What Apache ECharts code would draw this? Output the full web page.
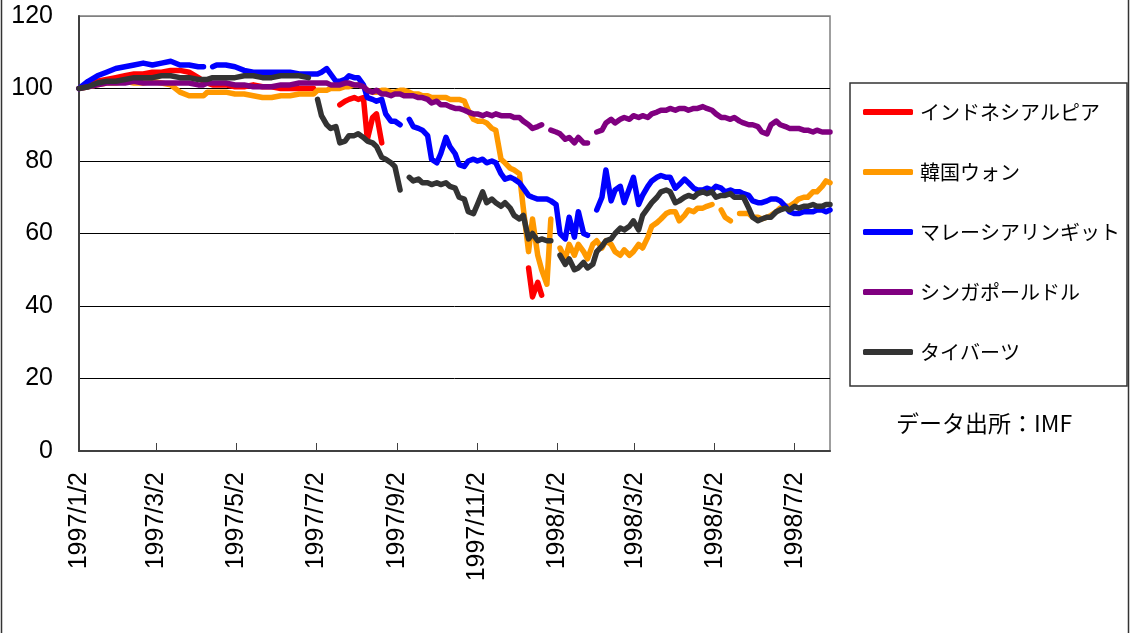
<!DOCTYPE html>
<html>
<head>
<meta charset="utf-8">
<script src="https://cdn.jsdelivr.net/npm/echarts@6/dist/echarts.min.js"></script>
<style>
html,body{margin:0;padding:0;background:#fff;}
#c{width:1133px;height:633px;}
</style>
</head>
<body>
<div id="c"></div>
<script>
// ---- data (index, 1997/1/2 = 100) ----
const dates = [
 '1997-01-02','1997-01-09','1997-01-16','1997-01-23','1997-01-30','1997-02-06','1997-02-13','1997-02-20','1997-02-27','1997-03-06',
 '1997-03-13','1997-03-20','1997-03-27','1997-04-03','1997-04-07','1997-04-10','1997-04-14','1997-04-17','1997-04-24','1997-05-01',
 '1997-05-08','1997-05-15','1997-05-22','1997-05-29','1997-06-05','1997-06-12','1997-06-19','1997-06-26','1997-06-30',
 '1997-07-03','1997-07-06','1997-07-10','1997-07-13','1997-07-17','1997-07-20','1997-07-24','1997-07-27','1997-07-31','1997-08-03',
 '1997-08-07','1997-08-10','1997-08-14','1997-08-17','1997-08-21','1997-08-24','1997-08-28','1997-08-31','1997-09-04','1997-09-07',
 '1997-09-11','1997-09-14','1997-09-18','1997-09-21','1997-09-25','1997-09-28','1997-10-02','1997-10-05','1997-10-09','1997-10-12',
 '1997-10-16','1997-10-19','1997-10-23','1997-10-26','1997-10-30','1997-11-02','1997-11-06','1997-11-09','1997-11-13','1997-11-16',
 '1997-11-20','1997-11-23','1997-11-27','1997-11-30','1997-12-04','1997-12-07','1997-12-11','1997-12-14','1997-12-18','1997-12-21',
 '1997-12-25','1997-12-28','1998-01-01','1998-01-04','1998-01-08','1998-01-11','1998-01-15','1998-01-18','1998-01-22','1998-01-25',
 '1998-01-29','1998-02-01','1998-02-05','1998-02-08','1998-02-12','1998-02-15','1998-02-19','1998-02-22','1998-02-26','1998-03-01',
 '1998-03-05','1998-03-08','1998-03-12','1998-03-15','1998-03-19','1998-03-22','1998-03-26',
 '1998-03-29','1998-04-02','1998-04-05','1998-04-09','1998-04-12','1998-04-16','1998-04-19','1998-04-23','1998-04-26','1998-04-30',
 '1998-05-03','1998-05-07','1998-05-10','1998-05-14','1998-05-17','1998-05-21','1998-05-24','1998-05-28','1998-05-31','1998-06-04',
 '1998-06-07','1998-06-11','1998-06-14','1998-06-18','1998-06-21','1998-06-25','1998-06-28','1998-07-02','1998-07-05','1998-07-09',
 '1998-07-12','1998-07-16','1998-07-19','1998-07-23','1998-07-26','1998-07-29'
];

const seriesNames = ['インドネシアルピア','韓国ウォン','マレーシアリンギット','シンガポールドル','タイバーツ'];

const idr = [
 100,101,102,102.5,103,103.5,104,104,104.5,104.5,105,105,104.5,103,102,101.5,101,101,101,100.5,
 100.5,101,100.5,100.5,100,100,100,100,100,
 null,null,null,null,null,95.5,96.5,97,97.5,97,97.5,86,92,93,85,
 null,null,null,null,null,null,null,null,null,null,null,null,null,null,null,null,null,null,null,null,
 null,null,null,null,null,null,null,null,null,null,null,
 50.5,42.5,46.5,43,
 null,null,null,null,null,null,null,null,null,null,null,null,null,null,null,null,null,null,null,null,
 null,null,null,null,null,null,null,
 null,null,null,null,null,null,null,null,null,null,null,null,null,null,null,null,null,null,null,null,
 null,null,null,null,null,null,null,null,null,null,null,null,null,null,null,null
];

const krw = [
 100,100.5,101,101.5,101.5,102,101.5,101.5,102,101.5,101,99,98,98,98,99,99,99,99,98.5,
 98.5,98,97.5,97.5,98,98,98.5,98.5,98.5,
 99.5,99.5,99.5,100,100,100,100.5,100.5,101,101,100.5,99.5,99,99,99.5,99.5,99,99,99.5,99.5,
 99,98.5,98.5,98,98,97.5,97.5,97.5,97.5,97,97,97,96.5,94,91.5,91,91,90.5,89,88.5,
 80.5,79.5,78,77.5,76.5,67,55,64,54,50,46,64,null,56,53,57,54,57,55,53,
 57,58,56,58,57,55,54,55.5,54,55,57,56,59,62,63,64,65.5,
 66,66,63.5,65,66.5,66,67,67,67.5,68,null,66.5,64.5,63.5,null,65.5,65.5,65.5,64.5,64.5,
 64,64.5,65,66,67,67.5,67.5,68.5,69.5,70,70,71.5,71.5,73,74.5,74
];

const myr = [
 100,102,103.5,104.5,105.5,106,106.5,107,106.5,107,107.5,106.5,106.5,106,106,null,106,106.5,106.5,106,
 105,104.5,104.5,104.5,104.5,104.5,104,104,104,
 104,104.5,105.5,104,102,102,102.5,103.5,103,103,101,97.5,97,96.5,97,93,91,91,90,null,
 91.5,89.5,89,88.5,87,80.5,79.5,82,86.5,84,82,79,78.5,80,80.5,80,80.5,79.5,80,79.5,
 76.5,75,75.5,75,74,72.5,70.5,70,69.5,69.5,69.5,69,68,60,58.5,64.5,59,66,60,59.5,
 null,66.5,70,77.5,69,72,73,68.5,72.5,75.5,68,70.5,73,74.5,75.5,76,75.5,
 75.5,72.5,73.5,75,74,72.5,72,72,72.5,72,73,72.5,71.5,72,71.5,71.5,71,70.5,69,68.5,
 68.5,69,69.5,69.5,69,67.5,66,65.5,65.5,66,66,66,66.5,66.5,66,66.5
];

const sgd = [
 100,100.5,101,101.5,101.5,101.5,102,101.5,101.5,101.5,101.5,101.5,101.5,101,101,101.5,101.5,101.5,101.5,101,
 101,100.5,100.5,100.5,101,101,101.5,101.5,101.5,
 101.5,101.5,101.5,101,101,101,101.5,101.5,101,101,100.5,99.5,99,99.5,98.5,98.5,98,98.5,98.5,98,
 98,98,97.5,97.5,97,96,96.5,95.5,95.5,95,94.5,94.5,94,93.5,93,93,92.5,93,92.5,93,
 92.5,92.5,92.5,92,92,91,90,89,89.5,90,null,88.5,88,87.5,86,86.5,85,86.5,85,85,
 null,88,88.5,90.5,91.5,90.5,91.5,92,91.5,92.5,92,92.5,92,93,93.5,94,94,
 94.5,94,94.5,94.5,94,94.5,94.5,95,94.5,94,93,92,92,91.5,92,91,90.5,90,90,89.5,
 88,87.5,90,91,90,89.5,89,89,89,88.5,88.5,88,88.5,88,88,88
];

const thb = [
 100,100.5,101.5,102,102,102.5,103,103,103,103.5,103.5,103,103,102.5,102.5,102.5,103,103,103,103,
 103.5,103.5,103,103,103.5,103.5,103.5,103,null,
 97,92.5,90,89,89.5,85,85.5,87,87,87.5,86.5,85.5,85,84,81,80.5,79.5,78.5,72,null,
 75.5,74.5,75,74,74,73.5,74,73.5,74,73,72.5,70,69.5,66,65.5,68,71.5,68.5,69.5,68.5,
 67.5,68.5,67,65,64,65,58.5,60,58,58.5,58,58,null,54,51.5,53,50,50.5,52,50.5,
 51.5,55,56.5,58,58.5,60,61.5,61,62,63.5,61,65,67,68.5,70,71.5,72,
 71.5,68.5,69,70,70.5,70,71,71.5,71,71.5,70,70.5,70.5,71,70,70,70,67,64.5,63.5,
 64,64.5,64.5,66,66.5,67,66.5,67.5,67,67.5,67.5,68,67.5,67.5,68,68
];

const xTickLabels = ['1997/1/2','1997/3/2','1997/5/2','1997/7/2','1997/9/2','1997/11/2','1998/1/2','1998/3/2','1998/5/2','1998/7/2'];
const yTicks = [0, 20, 40, 60, 80, 100, 120];
const colors = ['#ff0000','#ff9900','#0000ff','#800080','#333333'];
const sourceNote = 'データ出所：IMF';

// ---- helpers ----
const base = Date.UTC(1997, 0, 2);
function dayOf(s) {
  const p = s.split(/[-\/]/).map(Number);
  return Math.round((Date.UTC(p[0], p[1] - 1, p[2]) - base) / 86400000);
}
const xs = dates.map(dayOf);
const tickDays = xTickLabels.map(dayOf);
const labelByDay = {};
tickDays.forEach((d, i) => { labelByDay[d] = xTickLabels[i]; });

const allVals = [idr, krw, myr, sgd, thb];
const series = allVals.map((vals, k) => ({
  name: seriesNames[k],
  type: 'line',
  data: xs.map((x, i) => [x, vals[i]]),
  showSymbol: false,
  symbol: 'none',
  connectNulls: false,
  color: colors[k],
  lineStyle: { width: 5.5, color: colors[k], cap: 'round', join: 'round' },
  emphasis: { disabled: true },
  animation: false
}));

const chart = echarts.init(document.getElementById('c'), null, { renderer: 'canvas' });
chart.setOption({
  animation: false,
  backgroundColor: '#ffffff',
  textStyle: { fontFamily: 'Liberation Sans, Arial, sans-serif' },
  grid: {
    left: 79, top: 16, right: 303, bottom: 182,
    show: true, borderColor: '#808080', borderWidth: 1.5, backgroundColor: 'transparent'
  },
  xAxis: {
    type: 'value',
    min: 0,
    max: xs[xs.length - 1],
    splitLine: { show: false },
    axisLine: { show: true, lineStyle: { color: '#404040', width: 2 } },
    axisTick: { show: true, inside: true, length: 8, customValues: tickDays, lineStyle: { color: '#404040', width: 1 } },
    axisLabel: {
      customValues: tickDays,
      rotate: 90,
      margin: 21,
      fontSize: 25,
      color: '#000',
      fontFamily: 'Liberation Sans, Arial, sans-serif',
      formatter: v => labelByDay[v] || ''
    }
  },
  yAxis: {
    type: 'value',
    min: yTicks[0],
    max: yTicks[yTicks.length - 1],
    interval: 20,
    axisLine: { show: true, lineStyle: { color: '#404040', width: 2 } },
    axisTick: { show: false },
    splitLine: { show: true, lineStyle: { color: ['#000','#000','#000','#000','#000','#000','#808080'], width: 1 } },
    axisLabel: { fontSize: 25, margin: 26, color: '#000', fontFamily: 'Liberation Sans, Arial, sans-serif' }
  },
  legend: {
    data: seriesNames,
    orient: 'vertical',
    left: 863,
    top: 102,
    padding: 0,
    itemWidth: 50,
    itemHeight: 6,
    itemGap: 40,
    icon: 'roundRect',
    selectedMode: false,
    textStyle: { fontSize: 20, color: '#000', fontFamily: 'Noto Sans CJK JP', padding: [0, 0, 0, 2] }
  },
  graphic: [
    { type: 'rect', shape: { x: 850, y: 83, width: 277, height: 303 }, style: { fill: 'none', stroke: '#333', lineWidth: 1.5 }, z: 0, silent: true },
    { type: 'rect', shape: { x: 1.5, y: -10, width: 1127, height: 670 }, style: { fill: 'none', stroke: '#333', lineWidth: 1.5 }, z: 0, silent: true },
    { type: 'text', left: 896, top: 412, style: { text: sourceNote, fontSize: 23, fill: '#000', fontFamily: 'Noto Sans CJK JP' }, silent: true }
  ],
  series: series
});
</script>
</body>
</html>
